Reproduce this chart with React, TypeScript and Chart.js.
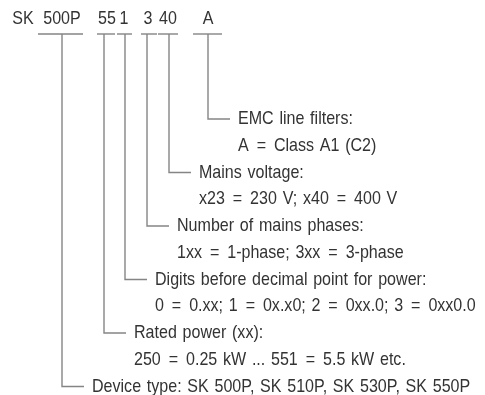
import React, { useEffect, useRef } from "react";
import { Chart, registerables } from "chart.js";

Chart.register(...registerables);

// Type code parts shown on the top row, and the x (diagram units) at which each is centred
const codeParts = ["SK", "500P", "55", "1", "3", "40", "A"];
const codePartX = [23, 62, 107, 124, 148, 168, 208];
const codeRowY = 19;

// Underlines below the coded parts [from, to]
const underlineFrom = [38, 97, 117, 141, 158, 193];
const underlineTo = [83, 115, 132, 157, 178, 222];
const underlineY = 34;

// Descriptions: heading text, detail text, stem x, row y
const descHeads = [
  "EMC line filters:",
  "Mains voltage:",
  "Number of mains phases:",
  "Digits before decimal point for power:",
  "Rated power (xx):",
  "Device type: SK 500P, SK 510P, SK 530P, SK 550P",
];
const descDetails = [
  "A = Class A1 (C2)",
  "x23 = 230 V; x40 = 400 V",
  "1xx = 1-phase; 3xx = 3-phase",
  "0 = 0.xx; 1 = 0x.x0; 2 = 0xx.0; 3 = 0xx0.0",
  "250 = 0.25 kW ... 551 = 5.5 kW etc.",
  "",
];
const stemX = [208, 169, 147, 125, 104, 62];
const headRowY = [119, 172.5, 226, 279.5, 333, 386.5];
const legLength = 22;
const textOffset = 30;
const detailGap = 26.7;

const LINE_COLOR = "#858585";
const TEXT_COLOR = "#333333";

export default function App() {
  const ref = useRef<HTMLCanvasElement | null>(null);

  useEffect(() => {
    const canvas = ref.current;
    if (!canvas) return;

    const m = document.createElement("canvas").getContext("2d")!;
    m.font = "19px 'Liberation Sans Narrow', monospace";
    const wNarrow = m.measureText("Device type: SK 500P").width;
    m.font = "19px monospace";
    const wMono = m.measureText("Device type: SK 500P").width;
    const hasNarrow = Math.abs(wNarrow - wMono) > 0.5;
    const fontFamily = hasNarrow ? "'Liberation Sans Narrow'" : "'Liberation Sans'";
    const squeeze = hasNarrow ? 1.03 : 0.845;
    const fontSize = 19;
    const eqPad = 2.6;

    const datasets: any[] = [];
    underlineFrom.forEach((a, i) => {
      datasets.push({
        data: [
          { x: a, y: underlineY },
          { x: underlineTo[i], y: underlineY },
        ],
      });
    });
    stemX.forEach((sx, i) => {
      datasets.push({
        data: [
          { x: sx, y: underlineY },
          { x: sx, y: headRowY[i] },
          { x: sx + legLength, y: headRowY[i] },
        ],
      });
    });
    datasets.forEach((d) => {
      d.showLine = true;
      d.borderColor = LINE_COLOR;
      d.borderWidth = 1.4;
      d.pointRadius = 0;
      d.fill = false;
      d.tension = 0;
    });

    const textPlugin = {
      id: "diagramText",
      afterDatasetsDraw(chart: any) {
        const ctx = chart.ctx as any;
        const xs = chart.scales.x;
        const ys = chart.scales.y;
        ctx.save();
        ctx.fillStyle = TEXT_COLOR;
        ctx.font = `${fontSize}px ${fontFamily}`;
        ctx.textBaseline = "middle";
        try {
          ctx.wordSpacing = "1.5px";
        } catch (e) {}
        const draw = (t: string, x: number, y: number, align: CanvasTextAlign) => {
          ctx.save();
          ctx.translate(x, y);
          ctx.scale(squeeze, 1);
          if (align === "center") {
            ctx.textAlign = "center";
            ctx.fillText(t, 0, 0);
          } else {
            ctx.textAlign = "left";
            const pieces = t.split("=");
            let cx = 0;
            pieces.forEach((p, i) => {
              ctx.fillText(p, cx, 0);
              cx += ctx.measureText(p).width;
              if (i < pieces.length - 1) {
                cx += eqPad;
                ctx.fillText("=", cx, 0);
                cx += ctx.measureText("=").width + eqPad;
              }
            });
          }
          ctx.restore();
        };
        codeParts.forEach((p, i) => {
          draw(p, xs.getPixelForValue(codePartX[i]), ys.getPixelForValue(codeRowY), "center");
        });
        descHeads.forEach((h, i) => {
          const x = xs.getPixelForValue(stemX[i] + textOffset);
          draw(h, x, ys.getPixelForValue(headRowY[i]), "left");
          if (descDetails[i]) {
            draw(descDetails[i], x, ys.getPixelForValue(headRowY[i] + detailGap), "left");
          }
        });
        ctx.restore();
      },
    };

    const chart = new Chart(canvas, {
      type: "scatter",
      data: { datasets },
      options: {
        animation: false,
        responsive: false,
        maintainAspectRatio: false,
        layout: { padding: 0 },
        plugins: { legend: { display: false }, tooltip: { enabled: false } },
        events: [],
        scales: {
          x: { type: "linear", min: 0, max: 485, display: false },
          y: { type: "linear", min: 0, max: 395, reverse: true, display: false },
        },
      },
      plugins: [textPlugin],
    });
    return () => chart.destroy();
  }, []);

  return (
    <div style={{ position: "fixed", left: 0, top: 0, width: 485, height: 395, background: "#fff" }}>
      <canvas ref={ref} width={485} height={395} style={{ width: 485, height: 395, display: "block" }} />
    </div>
  );
}
